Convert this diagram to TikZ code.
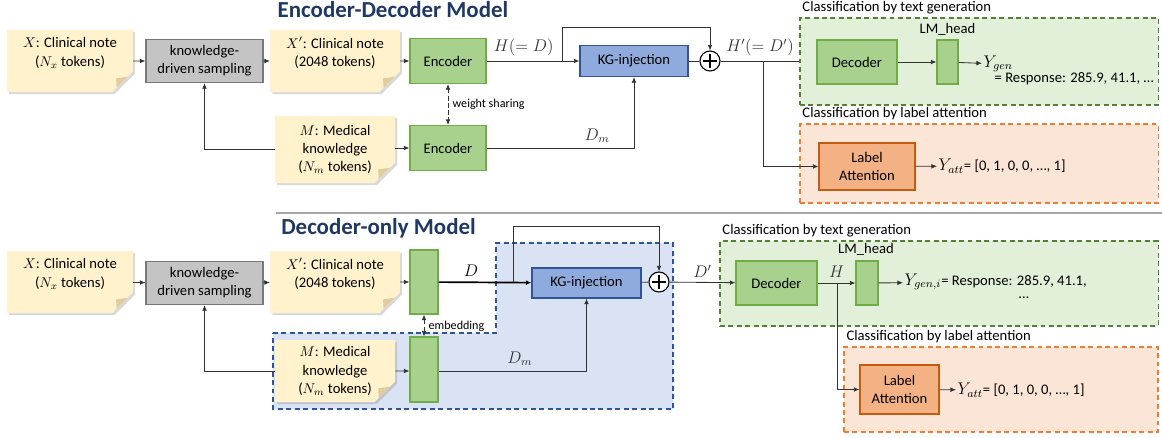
\documentclass[tikz,border=0pt]{standalone}
\usepackage{fontspec}
\setmainfont{Carlito}
\usetikzlibrary{arrows.meta,positioning,shapes.misc,shadows}
\definecolor{notefill}{RGB}{255,242,204}
\definecolor{notefold}{RGB}{224,205,155}
\definecolor{sampfill}{RGB}{196,196,196}
\definecolor{sampline}{RGB}{120,120,120}
\definecolor{codefill}{RGB}{169,209,142}
\definecolor{codeline}{RGB}{112,173,71}
\definecolor{kgfill}{RGB}{143,170,220}
\definecolor{kgline}{RGB}{47,85,151}
\definecolor{lafill}{RGB}{244,177,131}
\definecolor{laline}{RGB}{197,90,17}
\definecolor{genfill}{RGB}{226,240,217}
\definecolor{genline}{RGB}{84,130,53}
\definecolor{attfill}{RGB}{251,229,214}
\definecolor{attline}{RGB}{237,125,49}
\definecolor{regionfill}{RGB}{218,227,243}
\definecolor{titleblue}{RGB}{31,56,100}
\newcommand{\outsym}[1]{{\fontsize{11.5}{12}\selectfont$#1$}}

\begin{document}
\begin{tikzpicture}[x=0.025cm,y=-0.025cm,
  font=\fontsize{10.4}{13}\selectfont,
  >={Latex[length=1.4mm,width=1.2mm]},
  wire/.style={black!80,line width=0.6pt},
  note/.style={chamfered rectangle,chamfered rectangle corners=south east,
    chamfered rectangle xsep=0.4cm,fill=notefill,align=center,inner sep=0pt,
    minimum width=3cm,
    drop shadow={opacity=0.3,shadow xshift=1.5pt,shadow yshift=-1.5pt},
    path picture={\fill[notefold] ([yshift=0.4cm]path picture bounding box.south east)
      -- ([xshift=-0.4cm]path picture bounding box.south east)
      -- ([xshift=-0.42cm,yshift=0.34cm]path picture bounding box.south east) -- cycle;}},
  sampler/.style={draw=sampline,fill=sampfill,line width=0.8pt,align=center,
    minimum width=2.925cm,minimum height=1.075cm,inner sep=1pt},
  coder/.style={draw=codeline,fill=codefill,line width=0.8pt,align=center,inner sep=1pt},
  kgbox/.style={draw=kgline,fill=kgfill,line width=0.8pt,inner sep=1pt},
  labox/.style={draw=laline,fill=lafill,line width=0.8pt,align=center,inner sep=1pt},
  sum/.style={circle,draw=black,fill=white,line width=0.8pt,minimum size=0.5cm,inner sep=0pt,
    path picture={\draw[line width=0.9pt] ([xshift=-0.17cm]path picture bounding box.center)
      -- ([xshift=0.17cm]path picture bounding box.center)
      ([yshift=-0.17cm]path picture bounding box.center)
      -- ([yshift=0.17cm]path picture bounding box.center);}},
  genregion/.style={draw=genline,fill=genfill,dash pattern=on 3.5pt off 2.5pt,line width=0.8pt},
  attregion/.style={draw=attline,fill=attfill,dash pattern=on 3.5pt off 2.5pt,line width=0.8pt},
  caption/.style={anchor=south west,inner sep=1pt,xshift=1pt,yshift=1.5pt},
  title/.style={font=\fontsize{16.3}{18}\selectfont\bfseries,text=titleblue,inner sep=0pt},
  small/.style={font=\fontsize{8.6}{9}\selectfont,inner sep=1pt},
  mlbl/.style={font=\fontsize{11.5}{12}\selectfont}]
  \useasboundingbox (0,0) rectangle (1162,437);

  % encoder-decoder model
  \node[title] (ttl1) at (393,10) {Encoder-Decoder Model};
  \node[genregion,minimum width=8.95cm,minimum height=2.175cm] (gen1) at (979,61.5) {};
  \node[caption] at (gen1.north west) {Classification by text generation};
  \node[attregion,minimum width=8.95cm,minimum height=1.975cm] (att1) at (979,163.5) {};
  \node[caption] at (att1.north west) {Classification by label attention};

  \node[note,minimum height=1.55cm] (x1) at (70,61) {$X$: Clinical note\\($N_x$ tokens)\\\mbox{}};
  \node[sampler] (ks1) at (204.5,61) {knowledge-\\driven sampling};
  \node[note,minimum height=1.55cm] (xp1) at (335,61) {$X'$: Clinical note\\(2048 tokens)\\\mbox{}};
  \node[note,minimum height=1.675cm] (m1) at (335,149.5) {$M$: Medical\\knowledge\\($N_m$ tokens)};
  \node[coder,minimum width=1.9cm,minimum height=1.125cm] (enc1) at (448,61) {Encoder};
  \node[coder,minimum width=1.9cm,minimum height=1.125cm] (enc2) at (448,148) {Encoder};
  \node[kgbox,minimum width=2.7cm,minimum height=0.775cm] (kg1) at (634,61) {KG-injection};
  \node[sum] (sum1) at (710,61) {};
  \node[coder,minimum width=2cm,minimum height=1.1cm] (dec1) at (857,62) {Decoder};
  \node[coder,minimum width=0.525cm,minimum height=1.1cm] (head1) at (947.5,62) {};
  \node[inner sep=1pt] at (947.5,29) {LM\_head};
  \node[labox,minimum width=2.4cm,minimum height=1.175cm] (la1) at (867,166.5) {Label\\Attention};
  \node[anchor=west,inner sep=1pt] (ygen1) at (982,64) {\outsym{Y_{gen}}};
  \node[anchor=west,inner sep=1pt] (resp1) at (993,79) {= Response: 285.9, 41.1, \ldots};
  \node[anchor=west,inner sep=1pt] (yatt1) at (937,166) {\outsym{Y_{att}}= [0, 1, 0, 0, \ldots, 1]};

  \draw[wire,->] (x1) -- (ks1);
  \draw[wire,->] (ks1) -- (xp1);
  \draw[wire,->] (xp1) -- (enc1);
  \draw[wire,->] (m1.east |- enc2) -- (enc2);
  \draw[wire,->] (m1.west) -| (ks1.south);
  \draw[wire,<->,densely dashed] (enc1) -- (enc2);
  \node[small,anchor=west] at (451,104) {weight sharing};
  \coordinate (sp1) at (562,61);
  \draw[wire,->] (enc1) -- node[mlbl,above,pos=0.4] {$H(=D)$} (kg1);
  \draw[wire,->] (sp1) -- ++(0,-34) -| (sum1);
  \draw[wire,->] (enc2) -- node[mlbl,above,pos=0.75] {$D_m$} (enc2 -| kg1.south) -- (kg1);
  \draw[wire] (kg1) -- (sum1);
  \draw[wire] (sum1) -- node[mlbl,above,pos=0.5] {$H'(=D')$} (gen1.west |- sum1);
  \coordinate (sp2) at (763,61);
  \draw[wire,->] (sp2) |- (la1);
  \draw[wire,->] (dec1) -- (head1);
  \draw[wire,->] (head1) -- (ygen1);
  \draw[wire,->] (la1) -- (yatt1);

  \draw[black!35,line width=1.5pt] (276,213) -- (1162,213);

  % decoder-only model
  \draw[draw=kgline,fill=regionfill,dash pattern=on 3.5pt off 2.5pt,line width=0.8pt]
    (273,333) -- (496,333) -- (496,243) -- (673,243) -- (673,409) -- (273,409) -- cycle;
  \node[title,anchor=west] (ttl2) at (281,228) {Decoder-only Model};
  \node[genregion,minimum width=10.95cm,minimum height=2.125cm] (gen2) at (939,283.5) {};
  \node[caption] at (gen2.north west) {Classification by text generation};
  \node[attregion,minimum width=7.85cm,minimum height=2.125cm] (att2) at (1001,389.5) {};
  \node[caption] at (att2.north west) {Classification by label attention};

  \node[note,minimum height=1.55cm] (x2) at (70,282) {$X$: Clinical note\\($N_x$ tokens)\\\mbox{}};
  \node[sampler] (ks2) at (204.5,283) {knowledge-\\driven sampling};
  \node[note,minimum height=1.55cm] (xp2) at (335,282) {$X'$: Clinical note\\(2048 tokens)\\\mbox{}};
  \node[note,minimum height=1.55cm] (m2) at (335,371) {$M$: Medical\\knowledge\\($N_m$ tokens)};
  \node[coder,minimum width=0.7cm,minimum height=1.6cm] (emb1) at (424,282) {};
  \node[coder,minimum width=0.7cm,minimum height=1.625cm] (emb2) at (424,369.5) {};
  \node[kgbox,minimum width=2.725cm,minimum height=0.75cm] (kg2) at (586.5,283) {KG-injection};
  \node[sum] (sum2) at (659,282) {};
  \node[coder,minimum width=2.025cm,minimum height=1.1cm] (dec2) at (776.5,283) {Decoder};
  \node[coder,minimum width=0.55cm,minimum height=1.1cm] (head2) at (867,283) {};
  \node[inner sep=1pt] at (866,249) {LM\_head};
  \node[labox,minimum width=1.975cm,minimum height=1.225cm] (la2) at (899.5,389.5) {Label\\Attention};
  \node[anchor=west,inner sep=1pt] (ygen2) at (903,282) {\outsym{Y_{gen,i}}= Response: 285.9, 41.1,};
  \node[inner sep=1pt] (dots2) at (1024,298) {\ldots};
  \node[anchor=west,inner sep=1pt] (yatt2) at (956,390) {\outsym{Y_{att}}= [0, 1, 0, 0, \ldots, 1]};

  \draw[wire,->] (x2) -- (ks2);
  \draw[wire,->] (ks2) -- (xp2);
  \draw[wire,->] (xp2) -- (emb1);
  \draw[wire,->] (m2) -- (m2 -| emb2.west);
  \draw[wire,->] (m2.west) -| (ks2.south);
  \draw[wire,<->,densely dashed] (emb1) -- (emb2);
  \node[small,anchor=west] at (427,326) {embedding};
  \coordinate (sp3) at (513,282);
  \draw[->,line width=1.2pt] (emb1) -- node[mlbl,above,pos=0.35] {$D$} (kg2);
  \draw[wire,->] (sp3) -- ++(0,-56) -| (sum2);
  \draw[wire,->] (emb2.east |- m2) -- node[mlbl,above,pos=0.55] {$D_m$} (m2 -| kg2.south) -- (kg2);
  \draw[wire] (kg2) -- (sum2);
  \draw[wire,->] (sum2) -- node[mlbl,above,pos=0.5] {$D'$} (dec2);
  \coordinate (sp4) at (837,283);
  \draw[wire,->] (dec2) -- node[mlbl,above,pos=0.5] {$H$} (head2);
  \draw[wire,->] (sp4) |- (la2);
  \draw[wire,->] (head2) -- (ygen2);
  \draw[wire,->] (la2) -- (yatt2);
\end{tikzpicture}
\end{document}
